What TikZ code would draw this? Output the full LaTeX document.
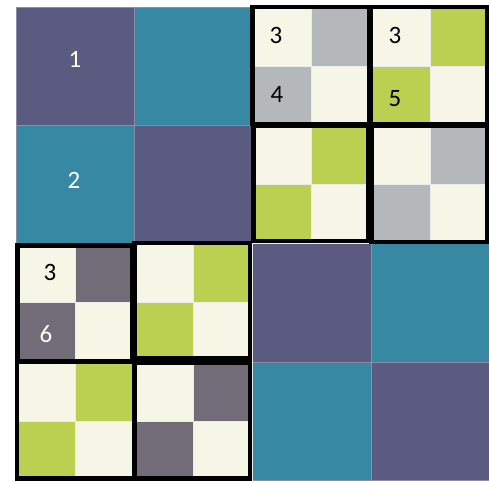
\documentclass[tikz,border=0pt]{standalone}
\usepackage{fontspec}
\setmainfont{Carlito}
\definecolor{cpurple}{HTML}{5B5B82}
\definecolor{cteal}{HTML}{3789A3}
\definecolor{ccream}{HTML}{F5F6E6}
\definecolor{cgrey}{HTML}{B5B8BB}
\definecolor{cgreen}{HTML}{BBD050}
\definecolor{cdark}{HTML}{716C78}
\tikzset{
  bigcell/.style={draw=cpurple!70!white, line width=0.5pt},
  subcell/.style={draw=white!85!gray, line width=0.6pt},
  blockframe/.style={draw=black, line width=4.5pt},
  lab/.style={font=\fontsize{25}{25}\selectfont, inner sep=0pt},
}
% \blk{x}{y}{colour}: 2x2 checkerboard of cream and colour with top-left corner at (x,y)
\newcommand{\blk}[3]{%
  \fill[ccream, subcell] (#1,#2) rectangle ++(59.125,59.125);
  \fill[#3, subcell] (#1+59.125,#2) rectangle ++(59.125,59.125);
  \fill[#3, subcell] (#1,#2+59.125) rectangle ++(59.125,59.125);
  \fill[ccream, subcell] (#1+59.125,#2+59.125) rectangle ++(59.125,59.125);
}
\begin{document}
\begin{tikzpicture}[x=1pt,y=-1pt]
\useasboundingbox (0,0) rectangle (489,481);
\fill[white] (0,0) rectangle (489,481);
% big cells
\fill[cpurple, bigcell] (16,7) rectangle (134.25,125.25);
\fill[cteal, bigcell] (134.25,7) rectangle (252.5,125.25);
\fill[cteal, bigcell] (16,125.25) rectangle (134.25,243.5);
\fill[cpurple, bigcell] (134.25,125.25) rectangle (252.5,243.5);
\fill[cpurple, bigcell] (252.5,243.5) rectangle (370.75,361.75);
\fill[cteal, bigcell] (370.75,243.5) rectangle (489,361.75);
\fill[cteal, bigcell] (252.5,361.75) rectangle (370.75,480);
\fill[cpurple, bigcell] (370.75,361.75) rectangle (489,480);
% checkerboard blocks
\blk{252.5}{7}{cgrey}
\blk{370.75}{7}{cgreen}
\blk{252.5}{125.25}{cgreen}
\blk{370.75}{125.25}{cgrey}
\blk{16}{243.5}{cdark}
\blk{134.25}{243.5}{cgreen}
\blk{16}{361.75}{cgreen}
\blk{134.25}{361.75}{cdark}
% block frames
\draw[blockframe] (252.5,7) rectangle (369,124);
\draw[blockframe] (370.75,7) rectangle (486.75,124);
\draw[blockframe] (253.5,126) rectangle (368,241);
\draw[blockframe] (371.5,126) rectangle (486.75,242);
\draw[blockframe] (17.5,245.5) rectangle (132,361);
\draw[blockframe] (134.25,243) rectangle (250,358);
\draw[blockframe] (17,362) rectangle (134,478.5);
\draw[blockframe] (135,362.5) rectangle (250,478.5);
% labels
\node[lab, text=white] (l1) at (75,59) {1};
\node[lab, text=white] (l2) at (74,180) {2};
\node[lab, text=black] (l3a) at (276,35) {3};
\node[lab, text=black] (l4) at (277,94) {4};
\node[lab, text=black] (l3b) at (395,35) {3};
\node[lab, text=black] (l5) at (395,99) {5};
\node[lab, text=black] (l3c) at (50,272) {3};
\node[lab, text=white] (l6) at (46,334) {6};
\end{tikzpicture}
\end{document}
